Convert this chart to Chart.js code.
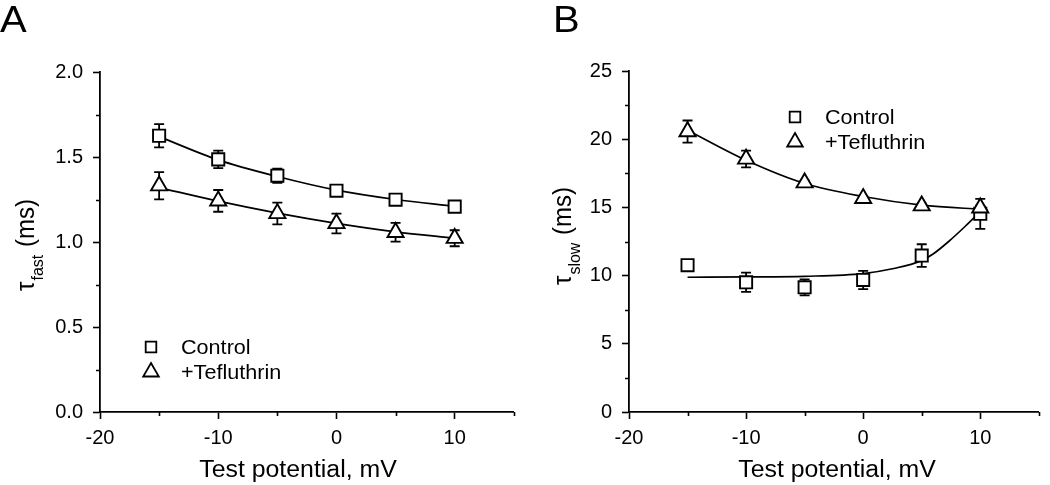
<!DOCTYPE html>
<html>
<head>
<meta charset="utf-8">
<script src="https://cdn.jsdelivr.net/npm/chart.js@4.4.1/dist/chart.umd.min.js"></script>
<style>
  html, body { margin: 0; padding: 0; background: #fff; }
  #wrap { position: relative; width: 1050px; height: 485px; }
  canvas { position: absolute; top: 0; }
  #panelA { left: 0; }
  #panelB { left: 525px; }
</style>
</head>
<body>
<div id="wrap">
  <canvas id="panelA" width="525" height="485"></canvas>
  <canvas id="panelB" width="525" height="485"></canvas>
</div>
<script>
const FONT = "'Liberation Sans', Arial, Helvetica, sans-serif";
const SX = 1.08; // the original figure is a little wider than tall
Chart.defaults.font.family = FONT;
Chart.defaults.color = '#000';

// test potentials, mV
const voltages = [-15, -10, -5, 0, 5, 10];
const xMajor = [-20, -10, 0, 10];
const xMinor = [-15, -5, 5, 15];
const xLabels = ['-20', '-10', '0', '10'];

// panel A: tau fast (ms)
const fastControl = [1.625, 1.486, 1.39, 1.302, 1.249, 1.208];
const fastControlErr = [0.068, 0.052, 0.042, 0.018, 0.015, 0.015];
const fastTef = [1.331, 1.242, 1.168, 1.109, 1.057, 1.022];
const fastTefErr = [0.08, 0.064, 0.064, 0.058, 0.055, 0.047];
const fastControlFit = [1.62, 1.483, 1.385, 1.305, 1.25, 1.21];
const fastTefFit = [1.32, 1.24, 1.17, 1.11, 1.06, 1.022];
const yMajorA = [0, 0.5, 1.0, 1.5, 2.0];
const yMinorA = [0.25, 0.75, 1.25, 1.75];
const yLabelsA = ['0.0', '0.5', '1.0', '1.5', '2.0'];

// panel B: tau slow (ms)
const slowControl = [10.76, 9.51, 9.14, 9.68, 11.47, 14.53];
const slowControlErr = [0.25, 0.71, 0.59, 0.67, 0.83, 1.1];
const slowTef = [20.56, 18.55, 16.81, 15.66, 15.12, 14.97];
const slowTefErr = [0.81, 0.61, 0.15, 0.15, 0.15, 0.15];
const slowControlFitX = [-15, -10, -5, 0, 2.5, 5, 6, 7.3, 8.7, 10.2];
const slowControlFitY = [9.88, 9.9, 9.95, 10.15, 10.5, 11.1, 11.6, 12.5, 13.6, 14.85];
const slowTefFitX = [-15, -10, -5, 0, 5, 10, 10.6];
const slowTefFitY = [20.65, 18.45, 16.75, 15.8, 15.17, 14.87, 14.84];
const yMajorB = [0, 5, 10, 15, 20, 25];
const yMinorB = [2.5, 7.5, 12.5, 17.5, 22.5];
const yLabelsB = ['0', '5', '10', '15', '20', '25'];

const pts = (xs, ys) => xs.map((x, i) => ({ x: x, y: ys[i] }));

// error bars, drawn under the markers
const errorBars = {
  id: 'errorBars',
  beforeDatasetsDraw(chart) {
    const ctx = chart.ctx, ys = chart.scales.y;
    ctx.save();
    ctx.strokeStyle = '#000';
    ctx.lineWidth = 1.8;
    chart.data.datasets.forEach((ds, i) => {
      if (!ds.errors) return;
      chart.getDatasetMeta(i).data.forEach((pt, j) => {
        const v = ds.data[j].y, e = ds.errors[j];
        const top = ys.getPixelForValue(v + e), bot = ys.getPixelForValue(v - e);
        ctx.beginPath();
        ctx.moveTo(pt.x, top); ctx.lineTo(pt.x, bot);
        ctx.moveTo(pt.x - 5, top); ctx.lineTo(pt.x + 5, top);
        ctx.moveTo(pt.x - 5, bot); ctx.lineTo(pt.x + 5, bot);
        ctx.stroke();
      });
    });
    ctx.restore();
  }
};

// short unlabeled ticks between the major ones
const minorTicks = {
  id: 'minorTicks',
  afterDraw(chart, args, opts) {
    const { ctx, chartArea, scales } = chart;
    ctx.save();
    ctx.strokeStyle = '#000';
    ctx.lineWidth = 1.6;
    ctx.beginPath();
    opts.x.forEach(v => {
      const px = Math.round(scales.x.getPixelForValue(v)) + 0.5;
      ctx.moveTo(px, chartArea.bottom);
      ctx.lineTo(px, chartArea.bottom + 4);
    });
    opts.y.forEach(v => {
      const py = Math.round(scales.y.getPixelForValue(v)) + 0.5;
      ctx.moveTo(chartArea.left, py);
      ctx.lineTo(chartArea.left - 4, py);
    });
    ctx.stroke();
    ctx.restore();
  }
};

function stretchedText(ctx, text, x, y, font, align) {
  ctx.save();
  ctx.translate(x, y);
  ctx.scale(SX, 1);
  ctx.font = font;
  ctx.textAlign = align || 'left';
  ctx.textBaseline = 'alphabetic';
  ctx.fillStyle = '#000';
  ctx.fillText(text, 0, 0);
  ctx.restore();
}

// panel letter, axis titles (with subscript) and the inset legend
const panelText = {
  id: 'panelText',
  afterDraw(chart, args, o) {
    const ctx = chart.ctx;
    stretchedText(ctx, o.letter, o.letterX, 32, '37px ' + FONT);
    stretchedText(ctx, 'Test potential, mV', o.xTitleX, 477, '23px ' + FONT, 'center');

    // y title, rotated
    ctx.save();
    ctx.translate(o.yTitleX, o.yTitleY);
    ctx.scale(SX, 1);
    ctx.rotate(-Math.PI / 2);
    ctx.fillStyle = '#000';
    ctx.textBaseline = 'alphabetic';
    ctx.textAlign = 'left';
    const main = '24px ' + FONT, small = '16px ' + FONT;
    ctx.font = main;
    const wT = ctx.measureText('τ').width, wR = ctx.measureText(' (ms)').width;
    ctx.font = small;
    const wS = ctx.measureText(o.sub).width;
    let u = -(wT + wS + wR + 2) / 2;
    ctx.font = main; ctx.fillText('τ', u, 0); u += wT + 1;
    ctx.font = small; ctx.fillText(o.sub, u, 8); u += wS + 1;
    ctx.font = main; ctx.fillText(' (ms)', u, 0);
    ctx.restore();

    // legend
    o.legend.forEach(item => {
      ctx.save();
      ctx.fillStyle = '#fff';
      ctx.strokeStyle = '#000';
      ctx.lineWidth = 1.8;
      Chart.helpers.drawPoint(ctx, { pointStyle: item.style, radius: item.radius, rotation: 0, borderWidth: 1.8 }, o.legendX, item.y);
      ctx.restore();
      stretchedText(ctx, item.label, o.legendX + 30, item.y + 7, '20px ' + FONT);
    });
  }
};

function makePanel(id, p) {
  return new Chart(document.getElementById(id), {
    type: 'scatter',
    data: {
      datasets: [
        {
          label: '+Tefluthrin',
          data: pts(voltages, p.tef),
          errors: p.tefErr,
          pointStyle: 'triangle',
          pointRadius: 9.3,
          pointBackgroundColor: '#fff',
          pointBorderColor: '#000',
          pointBorderWidth: 1.9
        },
        {
          label: 'Control',
          data: pts(voltages, p.control),
          errors: p.controlErr,
          pointStyle: 'rect',
          pointRadius: 8.6,
          pointBackgroundColor: '#fff',
          pointBorderColor: '#000',
          pointBorderWidth: 1.9
        },
        {
          label: 'Control fit',
          data: p.controlFit,
          showLine: true,
          cubicInterpolationMode: 'monotone',
          borderColor: '#000',
          borderWidth: 1.7,
          pointRadius: 0
        },
        {
          label: 'Tefluthrin fit',
          data: p.tefFit,
          showLine: true,
          cubicInterpolationMode: 'monotone',
          borderColor: '#000',
          borderWidth: 1.7,
          pointRadius: 0
        }
      ]
    },
    options: {
      responsive: false,
      animation: false,
      events: [],
      devicePixelRatio: 1,
      layout: { padding: { top: p.top, right: p.right, left: 0, bottom: 0 } },
      plugins: {
        legend: { display: false },
        tooltip: { enabled: false },
        minorTicks: { x: xMinor, y: p.yMinor },
        panelText: p.text
      },
      scales: {
        x: {
          min: -20,
          max: 15,
          afterBuildTicks: s => { s.ticks = xMajor.map(v => ({ value: v })); },
          afterFit: s => { s.height = 73; },
          ticks: {
            autoSkip: false,
            maxRotation: 0,
            padding: 7,
            font: { size: 20 },
            callback: (v, i) => xLabels[i]
          },
          grid: { drawOnChartArea: false, tickLength: 7, tickColor: '#000', tickWidth: 1.6 },
          border: { color: '#000', width: 1.8 }
        },
        y: {
          min: 0,
          max: p.yMax,
          afterBuildTicks: s => { s.ticks = p.yMajor.map(v => ({ value: v })); },
          afterFit: s => { s.width = p.yWidth; },
          ticks: {
            autoSkip: false,
            padding: 10,
            font: { size: 20 },
            callback: (v, i) => p.yLabels[i]
          },
          grid: { drawOnChartArea: false, tickLength: 7, tickColor: '#000', tickWidth: 1.6 },
          border: { color: '#000', width: 1.8 }
        }
      }
    },
    plugins: [errorBars, minorTicks, panelText]
  });
}

makePanel('panelA', {
  control: fastControl, controlErr: fastControlErr,
  tef: fastTef, tefErr: fastTefErr,
  controlFit: pts(voltages, fastControlFit),
  tefFit: pts(voltages, fastTefFit),
  yMax: 2, yMajor: yMajorA, yMinor: yMinorA, yLabels: yLabelsA,
  top: 72, right: 5, yWidth: 100,
  text: {
    letter: 'A', letterX: 0, xTitleX: 298, yTitleX: 34, yTitleY: 245, sub: 'fast',
    legendX: 151,
    legend: [
      { label: 'Control', style: 'rect', radius: 7.5, y: 347 },
      { label: '+Tefluthrin', style: 'triangle', radius: 9, y: 372 }
    ]
  }
});

makePanel('panelB', {
  control: slowControl, controlErr: slowControlErr,
  tef: slowTef, tefErr: slowTefErr,
  controlFit: pts(slowControlFitX, slowControlFitY),
  tefFit: pts(slowTefFitX, slowTefFitY),
  yMax: 25, yMajor: yMajorB, yMinor: yMinorB, yLabels: yLabelsB,
  top: 71, right: 1, yWidth: 104,
  text: {
    letter: 'B', letterX: 28, xTitleX: 312, yTitleX: 46, yTitleY: 236, sub: 'slow',
    legendX: 270,
    legend: [
      { label: 'Control', style: 'rect', radius: 7.5, y: 117 },
      { label: '+Tefluthrin', style: 'triangle', radius: 9, y: 142 }
    ]
  }
});
</script>
</body>
</html>
